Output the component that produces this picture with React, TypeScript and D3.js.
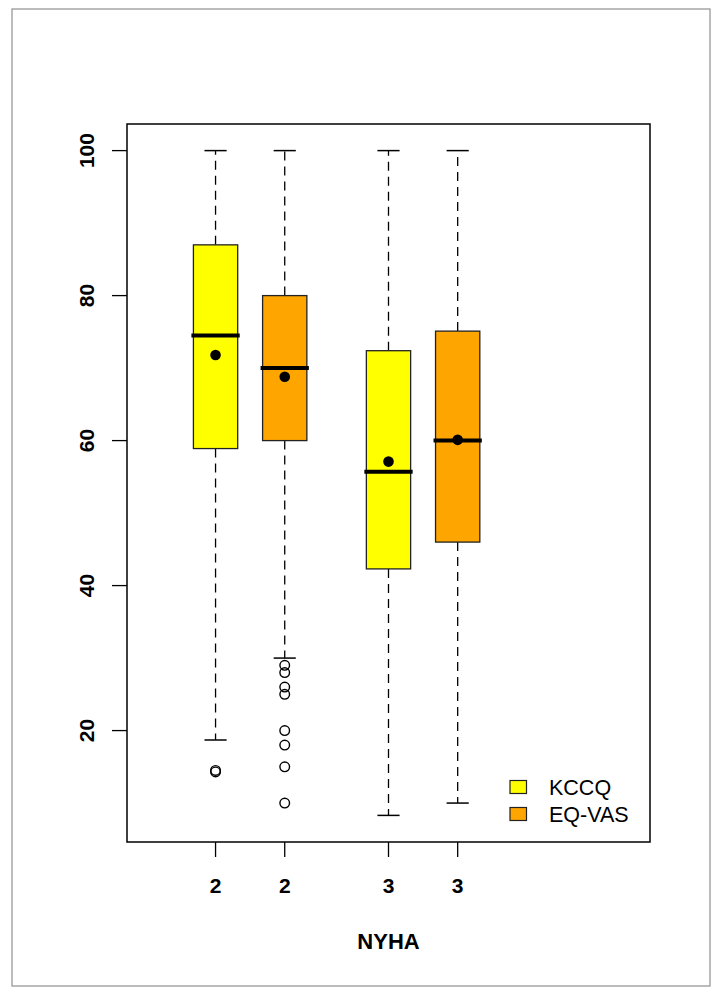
import React from 'react';
import * as d3 from 'd3';

// group labels and positions on the x axis
const groups = ['2', '2', '3', '3'];
const positions = [1, 2, 3.5, 4.5];
const series = ['KCCQ', 'EQ-VAS', 'KCCQ', 'EQ-VAS'];

// box stats
const whiskLow = [18.7, 30, 8.3, 10];
const q1 = [58.9, 60, 42.3, 46];
const medians = [74.5, 70, 55.7, 60];
const q3 = [87, 80, 72.4, 75.1];
const whiskHigh = [100, 100, 100, 100];
const means = [71.8, 68.8, 57.1, 60.1];
const outliers = [[14.5, 14.3], [29, 28, 26, 25, 20, 18, 15, 10], [], []];

const yTicks = [20, 40, 60, 80, 100];
const legendLabels = ['KCCQ', 'EQ-VAS'];
const colors: Record<string, string> = { 'KCCQ': '#ffff00', 'EQ-VAS': '#ffa500' };

const W = 720;
const H = 998;
const plot = { left: 127, right: 650, top: 124, bottom: 842 };
const font = '"Liberation Sans", Arial, sans-serif';

const App = () => {
  const x = d3.scaleLinear().domain([-0.28, 7.28]).range([plot.left, plot.right]);
  const y = d3.scaleLinear().domain([4.63, 103.67]).range([plot.bottom, plot.top]);
  const boxW = x(0.64) - x(0);
  const capW = x(0.32) - x(0);

  return (
    <div style={{ position: 'absolute', left: 0, top: 0 }}>
      <svg width={W} height={H} style={{ display: 'block', background: '#fff' }}>
        <rect x={12} y={9} width={698} height={977} fill="none" stroke="#999" strokeWidth={1.3} />

        {/* boxes */}
        {groups.map((g, i) => {
          const cx = x(positions[i]);
          return (
            <g key={i}>
              <line x1={cx} x2={cx} y1={y(q3[i])} y2={y(whiskHigh[i])} stroke="#000" strokeWidth={1.3} strokeDasharray="9,6" />
              <line x1={cx} x2={cx} y1={y(q1[i])} y2={y(whiskLow[i])} stroke="#000" strokeWidth={1.3} strokeDasharray="9,6" />
              <line x1={cx - capW / 2} x2={cx + capW / 2} y1={y(whiskHigh[i])} y2={y(whiskHigh[i])} stroke="#000" strokeWidth={1.5} />
              <line x1={cx - capW / 2} x2={cx + capW / 2} y1={y(whiskLow[i])} y2={y(whiskLow[i])} stroke="#000" strokeWidth={1.5} />
              <rect x={cx - boxW / 2} y={y(q3[i])} width={boxW} height={y(q1[i]) - y(q3[i])}
                fill={colors[series[i]]} stroke="#222" strokeWidth={1.3} />
              <line x1={cx - boxW / 2 - 2} x2={cx + boxW / 2 + 2} y1={y(medians[i])} y2={y(medians[i])} stroke="#000" strokeWidth={4} />
              <circle cx={cx} cy={y(means[i])} r={5.3} fill="#000" />
              {outliers[i].map((v, j) => (
                <circle key={j} cx={cx} cy={y(v)} r={4.8} fill="none" stroke="#000" strokeWidth={1.4} />
              ))}
            </g>
          );
        })}

        {/* plot frame */}
        <rect x={plot.left} y={plot.top} width={plot.right - plot.left} height={plot.bottom - plot.top}
          fill="none" stroke="#000" strokeWidth={1.5} />

        {/* y axis */}
        {yTicks.map(t => (
          <g key={t}>
            <line x1={plot.left - 15} x2={plot.left} y1={y(t)} y2={y(t)} stroke="#000" strokeWidth={1.3} />
            <text transform={`translate(94,${y(t)}) rotate(-90)`} textAnchor="middle"
              fontFamily={font} fontSize={21} fontWeight="bold">{t}</text>
          </g>
        ))}

        {/* x axis */}
        {groups.map((g, i) => (
          <g key={i}>
            <line x1={x(positions[i])} x2={x(positions[i])} y1={plot.bottom} y2={plot.bottom + 15} stroke="#000" strokeWidth={1.3} />
            <text x={x(positions[i])} y={893} textAnchor="middle" fontFamily={font} fontSize={21} fontWeight="bold">{g}</text>
          </g>
        ))}
        <text x={(plot.left + plot.right) / 2} y={949} textAnchor="middle" fontFamily={font} fontSize={22} fontWeight="bold">NYHA</text>

        {/* legend */}
        {legendLabels.map((l, i) => (
          <g key={l} transform={`translate(0,${787 + i * 27})`}>
            <rect x={510} y={-6.5} width={16.5} height={13} fill={colors[l]} stroke="#222" strokeWidth={1.2} />
            <text x={549} y={7.5} fontFamily={font} fontSize={21.5}>{l}</text>
          </g>
        ))}
      </svg>
    </div>
  );
};

export default App;
